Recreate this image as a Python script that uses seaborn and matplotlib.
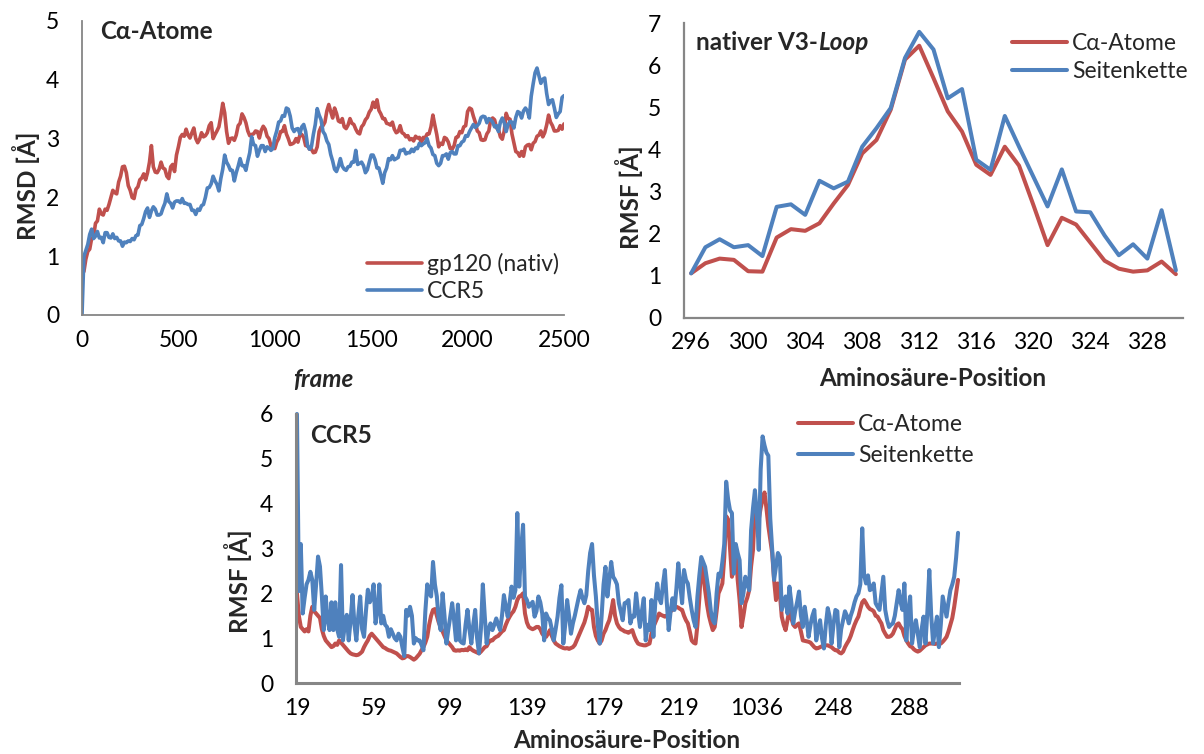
import matplotlib
matplotlib.use("Agg")
import matplotlib.pyplot as plt
from matplotlib.ticker import MultipleLocator, FuncFormatter, NullFormatter
import pandas as pd
import seaborn as sns

# ---------------------------------------------------------------- data
# RMSD of the C-alpha atoms over the trajectory, one value every 10 frames
frame_step = 10
rmsd_gp120 = [
    0.70, 0.74, 0.95, 1.08, 1.12, 1.30, 1.33, 1.56, 1.60, 1.80,
    1.72, 1.70, 1.80, 1.78, 1.88, 2.00, 2.12, 2.08, 2.06, 2.26,
    2.36, 2.52, 2.53, 2.42, 2.20, 2.12, 2.00, 1.98, 2.14, 2.18,
    2.30, 2.33, 2.40, 2.30, 2.42, 2.60, 2.88, 2.52, 2.43, 2.42,
    2.48, 2.60, 2.50, 2.48, 2.36, 2.32, 2.52, 2.56, 2.44, 2.72,
    2.86, 3.02, 3.07, 3.04, 3.16, 3.06, 3.01, 3.10, 3.18, 3.00,
    2.93, 2.99, 3.10, 3.03, 3.05, 3.10, 3.22, 3.27, 3.00, 3.07,
    3.13, 3.20, 3.38, 3.60, 3.44, 3.12, 2.92, 3.00, 3.01, 2.97,
    3.06, 3.22, 3.26, 3.42, 3.36, 3.27, 3.13, 3.05, 3.07, 3.08,
    3.13, 3.12, 3.01, 3.14, 3.21, 3.16, 3.04, 3.00, 2.88, 2.84,
    2.83, 2.94, 3.00, 3.12, 3.12, 3.22, 3.08, 3.00, 2.90, 2.91,
    2.93, 3.00, 2.94, 3.06, 3.07, 3.02, 2.88, 2.88, 2.82, 2.82,
    2.76, 2.77, 2.86, 3.12, 3.20, 3.22, 3.28, 3.47, 3.58, 3.46,
    3.35, 3.52, 3.43, 3.30, 3.28, 3.34, 3.20, 3.17, 3.23, 3.34,
    3.26, 3.24, 3.16, 3.10, 3.08, 3.20, 3.24, 3.32, 3.36, 3.45,
    3.50, 3.62, 3.53, 3.66, 3.48, 3.42, 3.34, 3.34, 3.26, 3.25,
    3.23, 3.28, 3.16, 3.10, 3.12, 3.22, 3.10, 3.08, 3.03, 3.05,
    2.98, 3.00, 2.96, 3.04, 3.01, 3.02, 2.93, 3.02, 3.01, 3.08,
    3.08, 3.20, 3.40, 3.23, 3.07, 2.86, 2.92, 2.90, 3.02, 3.00,
    2.94, 2.83, 2.82, 2.88, 3.02, 3.03, 3.12, 3.10, 3.20, 3.22,
    3.46, 3.52, 3.50, 3.38, 3.28, 3.13, 3.10, 2.98, 2.97, 2.98,
    3.08, 3.13, 3.32, 3.35, 3.32, 3.18, 3.16, 3.03, 2.99, 3.13,
    3.43, 3.34, 3.33, 3.08, 2.93, 2.78, 2.76, 2.70, 2.78, 2.70,
    2.86, 2.89, 2.90, 2.81, 2.92, 2.95, 3.04, 3.06, 3.13, 3.03,
    3.10, 3.23, 3.40, 3.28, 3.22, 3.13, 3.13, 3.14, 3.22, 3.16,
    3.25,
]
rmsd_ccr5 = [
    0.00, 1.00, 1.10, 1.20, 1.37, 1.46, 1.30, 1.34, 1.42, 1.31,
    1.32, 1.23, 1.40, 1.40, 1.32, 1.31, 1.38, 1.30, 1.32, 1.26,
    1.26, 1.17, 1.24, 1.23, 1.26, 1.25, 1.30, 1.28, 1.35, 1.36,
    1.52, 1.54, 1.64, 1.76, 1.82, 1.66, 1.77, 1.84, 1.80, 1.70,
    1.70, 1.72, 1.82, 1.90, 2.06, 1.93, 1.90, 1.82, 1.92, 1.94,
    1.94, 1.91, 1.98, 1.90, 1.90, 1.88, 1.88, 1.78, 1.78, 1.71,
    1.80, 1.78, 1.86, 1.88, 2.00, 2.16, 2.17, 2.23, 2.36, 2.28,
    2.22, 2.11, 2.32, 2.48, 2.72, 2.60, 2.54, 2.46, 2.46, 2.28,
    2.42, 2.53, 2.66, 2.54, 2.54, 2.46, 2.62, 2.76, 3.03, 2.90,
    2.88, 2.70, 2.80, 2.88, 2.88, 2.78, 2.86, 2.84, 2.80, 2.83,
    3.02, 3.13, 3.28, 3.30, 3.39, 3.38, 3.52, 3.50, 3.38, 3.18,
    3.12, 3.16, 3.17, 3.08, 3.20, 3.24, 3.12, 2.88, 2.82, 2.86,
    3.07, 3.24, 3.51, 3.40, 3.32, 3.12, 3.07, 2.96, 2.90, 2.73,
    2.62, 2.48, 2.44, 2.53, 2.66, 2.53, 2.48, 2.46, 2.52, 2.53,
    2.60, 2.60, 2.80, 2.56, 2.58, 2.60, 2.54, 2.42, 2.47, 2.60,
    2.72, 2.72, 2.64, 2.50, 2.50, 2.38, 2.24, 2.42, 2.50, 2.66,
    2.64, 2.71, 2.64, 2.66, 2.68, 2.80, 2.80, 2.82, 2.74, 2.76,
    2.76, 2.82, 2.78, 2.84, 2.83, 2.92, 2.88, 2.91, 2.93, 3.00,
    2.88, 2.84, 2.73, 2.71, 2.58, 2.54, 2.58, 2.71, 2.71, 2.74,
    2.65, 2.76, 2.78, 2.74, 2.74, 2.88, 2.88, 2.94, 2.96, 3.05,
    3.04, 3.12, 3.18, 3.24, 3.19, 3.22, 3.26, 3.36, 3.38, 3.37,
    3.27, 3.34, 3.32, 3.28, 3.20, 3.22, 3.12, 3.28, 3.35, 3.27,
    3.12, 3.24, 3.29, 3.28, 3.18, 3.36, 3.46, 3.44, 3.35, 3.47,
    3.52, 3.47, 3.35, 3.72, 3.93, 4.12, 4.20, 4.07, 3.94, 4.01,
    4.03, 3.77, 3.58, 3.64, 3.66, 3.52, 3.36, 3.42, 3.46, 3.70,
    3.73,
]

# RMSF of the native V3 loop, residues 296-330
v3_first, v3_last = 296, 330
v3_calpha = [1.05, 1.29, 1.40, 1.37, 1.10, 1.09, 1.90, 2.10, 2.06, 2.24,
             2.71, 3.15, 3.90, 4.22, 4.94, 6.13, 6.46, 5.69, 4.90, 4.42,
             3.63, 3.39, 4.06, 3.61, 2.68, 1.72, 2.37, 2.21, 1.78, 1.35,
             1.16, 1.09, 1.12, 1.33, 1.03]
v3_side = [1.05, 1.67, 1.86, 1.67, 1.72, 1.46, 2.63, 2.69, 2.44, 3.25,
           3.07, 3.23, 4.06, 4.50, 4.98, 6.17, 6.79, 6.37, 5.21, 5.43,
           3.75, 3.51, 4.79, 4.06, 3.35, 2.64, 3.52, 2.52, 2.50, 1.95,
           1.48, 1.74, 1.40, 2.55, 1.12]

# RMSF of CCR5; numbering runs 19-223, then the 1001-1051 insert, then 224-313
ccr5_segments = [(19, 223), (1001, 1051), (224, 313)]
ccr5_calpha = [
    2.00, 1.50, 1.25, 1.20, 1.15, 1.20, 1.15, 1.50, 1.70, 1.60,
    1.55, 1.50, 1.45, 1.20, 1.05, 0.95, 0.90, 0.85, 0.80, 0.82,
    0.88, 0.85, 0.95, 0.90, 0.85, 0.80, 0.75, 0.70, 0.66, 0.64,
    0.63, 0.62, 0.63, 0.66, 0.70, 0.80, 0.88, 0.95, 1.05, 1.10,
    1.05, 1.00, 0.95, 0.90, 0.85, 0.80, 0.78, 0.75, 0.73, 0.72,
    0.70, 0.68, 0.66, 0.62, 0.58, 0.55, 0.56, 0.60, 0.60, 0.58,
    0.55, 0.52, 0.55, 0.60, 0.65, 0.73, 0.80, 0.90, 1.03, 1.30,
    1.50, 1.63, 1.65, 1.50, 1.35, 1.25, 1.15, 1.05, 0.95, 0.90,
    0.85, 0.80, 0.73, 0.72, 0.73, 0.72, 0.74, 0.73, 0.75, 0.73,
    0.80, 0.75, 0.72, 0.70, 0.68, 0.66, 0.70, 0.75, 0.80, 0.82,
    0.90, 0.95, 0.95, 1.00, 1.03, 1.05, 1.10, 1.15, 1.18, 1.30,
    1.40, 1.48, 1.55, 1.60, 1.70, 1.85, 1.93, 1.95, 2.00, 1.55,
    1.35, 1.25, 1.22, 1.20, 1.22, 1.25, 1.25, 1.20, 1.10, 1.05,
    1.03, 1.10, 1.18, 1.05, 0.95, 0.88, 0.85, 0.82, 0.80, 0.78,
    0.77, 0.78, 0.76, 0.78, 0.80, 0.85, 0.95, 1.05, 1.15, 1.25,
    1.35, 1.50, 1.70, 1.65, 1.63, 1.25, 1.05, 0.95, 0.88, 0.95,
    1.10, 1.18, 1.30, 1.40, 1.60, 1.85, 1.50, 1.33, 1.25, 1.20,
    1.18, 1.15, 1.14, 1.12, 1.15, 1.18, 1.05, 0.95, 0.88, 0.86,
    0.85, 0.84, 0.84, 0.86, 0.88, 1.10, 1.25, 1.35, 1.45, 1.55,
    1.52, 1.50, 1.48, 1.50, 1.55, 1.60, 1.63, 1.68, 1.70, 1.68,
    1.65, 1.63, 1.50, 1.40, 1.33, 1.15, 0.95, 0.90, 0.88, 1.30,
    1.90, 2.67, 2.40, 2.07, 1.75, 1.50, 1.33, 1.18, 1.25, 1.60,
    2.00, 2.10, 2.22, 2.80, 3.72, 3.65, 3.00, 2.37, 2.60, 2.97,
    2.30, 1.85, 1.25, 1.50, 1.78, 1.90, 2.07, 2.60, 2.97, 3.93,
    3.70, 3.65, 3.90, 4.10, 4.25, 3.90, 3.50, 3.20, 2.90, 2.30,
    1.85, 2.22, 2.00, 1.48, 1.30, 1.18, 1.40, 1.63, 1.45, 1.30,
    1.25, 1.30, 1.33, 1.15, 0.95, 0.94, 0.93, 0.92, 0.90, 0.85,
    0.80, 0.77, 0.78, 0.80, 0.82, 0.84, 0.84, 0.84, 0.82, 0.80,
    0.76, 0.73, 0.73, 0.68, 0.66, 0.70, 0.80, 0.88, 0.95, 1.05,
    1.18, 1.30, 1.40, 1.48, 1.65, 1.80, 1.85, 1.78, 1.70, 1.65,
    1.63, 1.60, 1.50, 1.48, 1.40, 1.33, 1.18, 1.10, 1.03, 1.03,
    1.05, 1.10, 1.20, 1.30, 1.33, 1.25, 1.20, 1.05, 0.95, 0.88,
    0.82, 0.80, 0.75, 0.72, 0.70, 0.72, 0.76, 0.80, 0.84, 0.86,
    0.88, 0.88, 0.88, 0.87, 0.88, 0.88, 0.88, 0.92, 0.97, 1.03,
    1.15, 1.30, 1.45, 1.70, 2.00, 2.30,
]
ccr5_side = [
    6.00, 2.05, 3.10, 1.55, 1.90, 2.20, 2.30, 2.48, 2.30, 1.63,
    2.20, 2.82, 2.60, 1.93, 1.18, 1.93, 1.40, 1.18, 1.80, 1.18,
    1.80, 1.20, 1.03, 2.63, 0.95, 1.30, 1.52, 0.95, 1.40, 1.96,
    1.30, 0.95, 1.50, 1.93, 1.20, 1.03, 1.60, 2.08, 1.80, 1.90,
    2.20, 1.33, 1.60, 2.20, 1.33, 1.50, 1.30, 1.25, 1.03, 1.20,
    1.10, 1.00, 0.95, 1.10, 1.03, 0.80, 0.60, 1.63, 1.50, 1.70,
    1.50, 0.88, 1.00, 0.95, 0.95, 0.85, 0.73, 1.60, 2.20, 2.00,
    1.93, 2.70, 2.20, 1.93, 1.40, 1.18, 2.00, 1.50, 0.88, 1.20,
    1.48, 1.78, 1.40, 0.95, 1.75, 0.95, 0.90, 0.88, 1.30, 1.63,
    1.20, 0.88, 1.30, 1.63, 1.00, 0.66, 1.20, 2.20, 1.50, 0.88,
    1.20, 1.33, 1.18, 1.30, 1.44, 1.30, 1.18, 1.50, 1.96, 1.70,
    1.48, 1.80, 2.15, 1.90, 2.07, 3.79, 2.15, 3.00, 3.53, 1.93,
    1.85, 1.70, 1.75, 1.81, 1.48, 1.60, 1.93, 1.80, 1.55, 0.95,
    1.55, 1.45, 1.40, 1.20, 0.95, 1.20, 1.48, 1.90, 2.18, 0.88,
    1.30, 1.85, 1.50, 1.10, 1.33, 1.50, 1.70, 1.90, 2.07, 1.90,
    1.78, 1.96, 2.50, 2.90, 3.10, 2.40, 1.93, 1.30, 0.88, 1.50,
    2.20, 2.59, 1.93, 2.30, 2.70, 2.37, 2.30, 2.20, 1.78, 1.60,
    1.40, 1.78, 1.80, 1.85, 1.33, 1.50, 1.48, 2.00, 1.60, 1.25,
    1.60, 1.89, 0.95, 1.30, 1.18, 1.85, 1.03, 1.80, 2.22, 1.90,
    1.78, 2.20, 2.52, 1.80, 1.18, 1.60, 1.89, 1.63, 2.10, 2.67,
    2.20, 1.78, 2.52, 2.30, 2.22, 1.90, 1.63, 1.40, 1.25, 1.93,
    2.40, 2.81, 2.70, 2.59, 2.30, 2.00, 1.60, 1.40, 1.33, 2.00,
    2.44, 2.37, 2.70, 3.10, 4.49, 4.10, 3.85, 3.79, 2.44, 3.10,
    2.90, 2.74, 1.78, 2.00, 2.37, 2.20, 2.07, 3.41, 3.90, 4.30,
    3.75, 2.97, 4.76, 5.50, 5.30, 5.14, 5.07, 3.67, 3.00, 2.30,
    2.60, 2.90, 2.81, 1.63, 1.78, 1.93, 1.55, 2.15, 1.80, 1.33,
    1.60, 1.80, 2.04, 1.50, 1.25, 1.70, 1.40, 1.03, 1.30, 1.50,
    1.63, 0.95, 1.20, 1.40, 1.00, 0.77, 1.30, 1.67, 1.48, 0.88,
    1.30, 1.63, 1.60, 0.80, 1.20, 1.40, 1.60, 1.50, 1.33, 1.50,
    1.63, 1.80, 1.93, 2.00, 2.20, 3.45, 2.40, 2.22, 2.40, 2.07,
    2.10, 2.22, 1.78, 1.70, 1.63, 2.00, 2.37, 1.63, 1.40, 1.25,
    1.30, 1.33, 1.50, 1.78, 2.07, 1.80, 1.63, 2.22, 0.95, 1.60,
    1.93, 0.88, 1.20, 1.40, 1.10, 0.80, 1.20, 1.48, 0.88, 1.60,
    2.52, 1.50, 0.88, 1.20, 1.48, 0.80, 1.30, 1.93, 1.70, 1.48,
    1.80, 2.07, 2.20, 2.37, 2.80, 3.35,
]

# ---------------------------------------------------------------- tables
rmsd_df = pd.DataFrame({
    "frame": [i * frame_step for i in range(len(rmsd_gp120))],
    "gp120": rmsd_gp120,
    "ccr5": rmsd_ccr5,
})
v3_residues = list(range(v3_first, v3_last + 1))
v3_df = pd.DataFrame({"residue": v3_residues, "ca": v3_calpha, "side": v3_side})
ccr5_residues = [r for a, b in ccr5_segments for r in range(a, b + 1)]
ccr5_df = pd.DataFrame({
    "pos": range(len(ccr5_residues)),
    "residue": ccr5_residues,
    "ca": ccr5_calpha,
    "side": ccr5_side,
})

# ---------------------------------------------------------------- style
sns.set_style("white")
plt.rcParams["font.family"] = ["Lato", "DejaVu Sans"]
plt.rcParams["axes.unicode_minus"] = False

RED = "#C0504D"
BLUE = "#4F81BD"
AXIS_GRAY = "#868686"
W, H = 1204, 754
TICK_FS = 16.5
LABEL_FS = 17.5

fig = plt.figure(figsize=(W / 100, H / 100), dpi=100)


def box(left, top, right, bottom):
    return [left / W, 1 - bottom / H, (right - left) / W, (bottom - top) / H]


def fx(px):
    return px / W


def fy(py):
    return 1 - py / H


def style_axes(ax, spine_w):
    for s in ("top", "right"):
        ax.spines[s].set_visible(False)
    for s in ("left", "bottom"):
        ax.spines[s].set_color(AXIS_GRAY)
        ax.spines[s].set_linewidth(spine_w)
    ax.grid(False)
    ax.tick_params(which="both", direction="out", color=AXIS_GRAY,
                   width=spine_w, labelsize=TICK_FS, labelcolor="black")
    ax.tick_params(axis="y", which="major", length=6.5, pad=10)
    ax.tick_params(axis="x", which="major", length=5, pad=5.5)
    ax.tick_params(axis="x", which="minor", length=0, pad=10.5)
    ax.set_xlabel("")
    ax.set_ylabel("")


def draw(ax, data, x, y, color, label, lw):
    sns.lineplot(data=data, x=x, y=y, ax=ax, color=color, linewidth=lw,
                 label=label, estimator=None, sort=False,
                 solid_capstyle="round", solid_joinstyle="round")


def legend(ax, x_px, y_px, spacing):
    ax.legend(loc="center left", bbox_to_anchor=(fx(x_px), fy(y_px)),
              bbox_transform=fig.transFigure, frameon=False, fontsize=TICK_FS,
              handlelength=2.4, handletextpad=0.22, labelspacing=spacing,
              borderpad=0, borderaxespad=0)


# ---------------------------------------------------------------- RMSD panel
ax_rmsd = fig.add_axes(box(82, 21, 564, 315))
draw(ax_rmsd, rmsd_df, "frame", "gp120", RED, "gp120 (nativ)", 2.6)
draw(ax_rmsd, rmsd_df, "frame", "ccr5", BLUE, "CCR5", 2.6)
ax_rmsd.set_xlim(0, 2500)
ax_rmsd.set_ylim(0, 5)
ax_rmsd.xaxis.set_major_locator(MultipleLocator(100))
ax_rmsd.xaxis.set_major_formatter(
    FuncFormatter(lambda v, _: f"{v:.0f}" if round(v) % 500 == 0 else ""))
ax_rmsd.set_yticks(range(0, 6))
style_axes(ax_rmsd, 1.3)
legend(ax_rmsd, 367, 277, 0.26)
fig.text(fx(100), fy(39), "Cα-Atome", fontsize=LABEL_FS, fontweight="bold",
         va="baseline", ha="left")
fig.text(fx(26), fy(186), "RMSD [Å]", fontsize=LABEL_FS, fontweight="bold",
         rotation=90, va="center", ha="center")
fig.text(fx(323), fy(379), "frame", fontsize=LABEL_FS, fontweight="bold",
         fontstyle="italic", va="center", ha="center")

# ---------------------------------------------------------------- V3 loop panel
ax_v3 = fig.add_axes(box(684, 23, 1183, 317.5))
draw(ax_v3, v3_df, "residue", "ca", RED, "Cα-Atome", 2.9)
draw(ax_v3, v3_df, "residue", "side", BLUE, "Seitenkette", 2.9)
ax_v3.set_xlim(v3_first - 0.5, v3_last + 0.5)
ax_v3.set_ylim(0, 7)
ax_v3.set_xticks([r - 0.5 for r in v3_residues] + [v3_last + 0.5])
ax_v3.xaxis.set_major_formatter(NullFormatter())
v3_labeled = v3_residues[::4]
ax_v3.set_xticks(v3_labeled, minor=True)
ax_v3.set_xticklabels([str(r) for r in v3_labeled], minor=True)
ax_v3.set_yticks(range(0, 8))
style_axes(ax_v3, 1.6)
legend(ax_v3, 1012, 57.5, 0.3)
t_v3 = fig.text(fx(696), fy(50), "nativer V3-", fontsize=LABEL_FS,
                fontweight="bold", va="baseline", ha="left")
ax_v3.annotate("Loop", xy=(1, 0), xycoords=t_v3, va="bottom", ha="left",
               fontsize=LABEL_FS, fontweight="bold", fontstyle="italic",
               annotation_clip=False)
fig.text(fx(629), fy(197), "RMSF [Å]", fontsize=LABEL_FS, fontweight="bold",
         rotation=90, va="center", ha="center")
fig.text(fx(933), fy(378), "Aminosäure-Position", fontsize=LABEL_FS,
         fontweight="bold", va="center", ha="center")

# ---------------------------------------------------------------- CCR5 panel
ax_c = fig.add_axes(box(296, 414, 959, 683))
draw(ax_c, ccr5_df, "pos", "ca", RED, "Cα-Atome", 2.9)
draw(ax_c, ccr5_df, "pos", "side", BLUE, "Seitenkette", 2.9)
n_pos = len(ccr5_residues)
ax_c.set_xlim(-0.5, n_pos - 0.5)
ax_c.set_ylim(0, 6)
ax_c.set_xticks([p - 0.5 for p in range(0, n_pos, 10)])
ax_c.xaxis.set_major_formatter(NullFormatter())
c_labeled = list(range(0, n_pos, 40))
ax_c.set_xticks(c_labeled, minor=True)
ax_c.set_xticklabels([str(ccr5_residues[p]) for p in c_labeled], minor=True)
ax_c.set_yticks(range(0, 7))
style_axes(ax_c, 2.2)
for ln in ax_c.lines:
    ln.set_clip_on(False)
legend(ax_c, 798, 440, 0.44)
fig.text(fx(310), fy(443), "CCR5", fontsize=LABEL_FS, fontweight="bold",
         va="baseline", ha="left")
fig.text(fx(238), fy(581), "RMSF [Å]", fontsize=LABEL_FS, fontweight="bold",
         rotation=90, va="center", ha="center")
fig.text(fx(627), fy(741), "Aminosäure-Position", fontsize=LABEL_FS,
         fontweight="bold", va="center", ha="center")

fig.savefig("out.png", dpi=100)
